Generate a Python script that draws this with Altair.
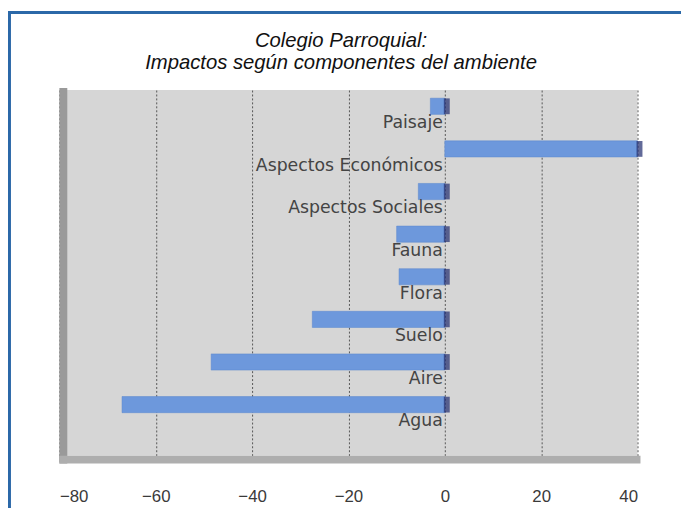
import altair as alt
import pandas as pd

categories = ["Paisaje", "Aspectos Económicos", "Aspectos Sociales", "Fauna",
              "Flora", "Suelo", "Aire", "Agua"]
values = [-3, 40, -5.5, -10, -9.5, -27.5, -48.5, -67]
x_ticks = [-80, -60, -40, -20, 0, 20, 40]
title_lines = ["Colegio Parroquial:", "Impactos según componentes del ambiente"]

df = pd.DataFrame({"cat": categories, "val": values})
df["end"] = df["val"].clip(lower=0)
df["zero"] = 0

W, H = 585, 370
PL, PT, PR, PB = 52, 80, 44, 53

xs = alt.Scale(domain=[-80, 40], nice=False, zero=False)
ys = alt.Scale(domain=categories, paddingInner=0.62, paddingOuter=0.6, align=0.16)

base = alt.Chart(df)

bars = base.mark_bar(color="#6d98dc", stroke="#5a86cf", strokeWidth=0.5).encode(
    x=alt.X("val:Q", scale=xs,
            axis=alt.Axis(values=x_ticks, grid=True, gridColor="#555555",
                          gridDash=[2, 2], gridWidth=1, domain=False,
                          tickColor="#aaaaaa", tickSize=6,
                          labelPadding=27, labelFontSize=17,
                          labelFont="Liberation Sans", labelColor="#3a3a3a",
                          title=None)),
    x2=alt.X2("zero:Q"),
    y=alt.Y("cat:N", scale=ys, sort=categories, axis=None),
)

caps = base.mark_tick(color="#1f2b6e", thickness=6, size=16, xOffset=2).encode(
    x=alt.X("end:Q", scale=xs),
    y=alt.Y("cat:N", scale=ys, sort=categories),
)

labels = base.mark_text(align="right", baseline="middle", dx=-2, dy=17,
                        fontSize=17.5, font="DejaVu Sans", color="#444444").encode(
    x=alt.X("zero:Q", scale=xs),
    y=alt.Y("cat:N", scale=ys, sort=categories),
    text="cat:N",
)


def title_line(text, ypos):
    return alt.Chart(pd.DataFrame({"line": [text]})).mark_text(
        font="Liberation Sans", fontSize=20.5, fontStyle="italic",
        color="#111111", align="center", baseline="middle").encode(
        x=alt.value(285), y=alt.value(ypos), text="line:N")


title1 = title_line(title_lines[0], -50)
title2 = title_line(title_lines[1], -27)

deco = pd.DataFrame({"k": [0]})
wall = alt.Chart(deco).mark_rule(color="#9a9a9a", strokeWidth=8).encode(
    x=alt.value(4), y=alt.value(-2), y2=alt.value(H + 8))
floor = alt.Chart(deco).mark_rule(color="#aeaeae", strokeWidth=8).encode(
    x=alt.value(0), x2=alt.value(W + 3), y=alt.value(H + 4))
border_top = alt.Chart(deco).mark_rule(color="#2b68a8", strokeWidth=3).encode(
    x=alt.value(-PL), x2=alt.value(W + PR), y=alt.value(-PT + 1.5))
border_left = alt.Chart(deco).mark_rule(color="#2b68a8", strokeWidth=3).encode(
    x=alt.value(-PL + 1.5), y=alt.value(-PT), y2=alt.value(H + PB))

chart = alt.layer(bars, caps, labels, wall, floor, title1, title2,
                  border_top, border_left).properties(
    width=W, height=H,
    autosize=alt.AutoSizeParams(type="none"),
    padding={"left": PL, "top": PT, "right": PR, "bottom": PB},
    background="white",
).configure_view(fill="#d6d6d6", stroke=None)

chart.save("out.html", embed_options={"renderer": "svg", "actions": False})
